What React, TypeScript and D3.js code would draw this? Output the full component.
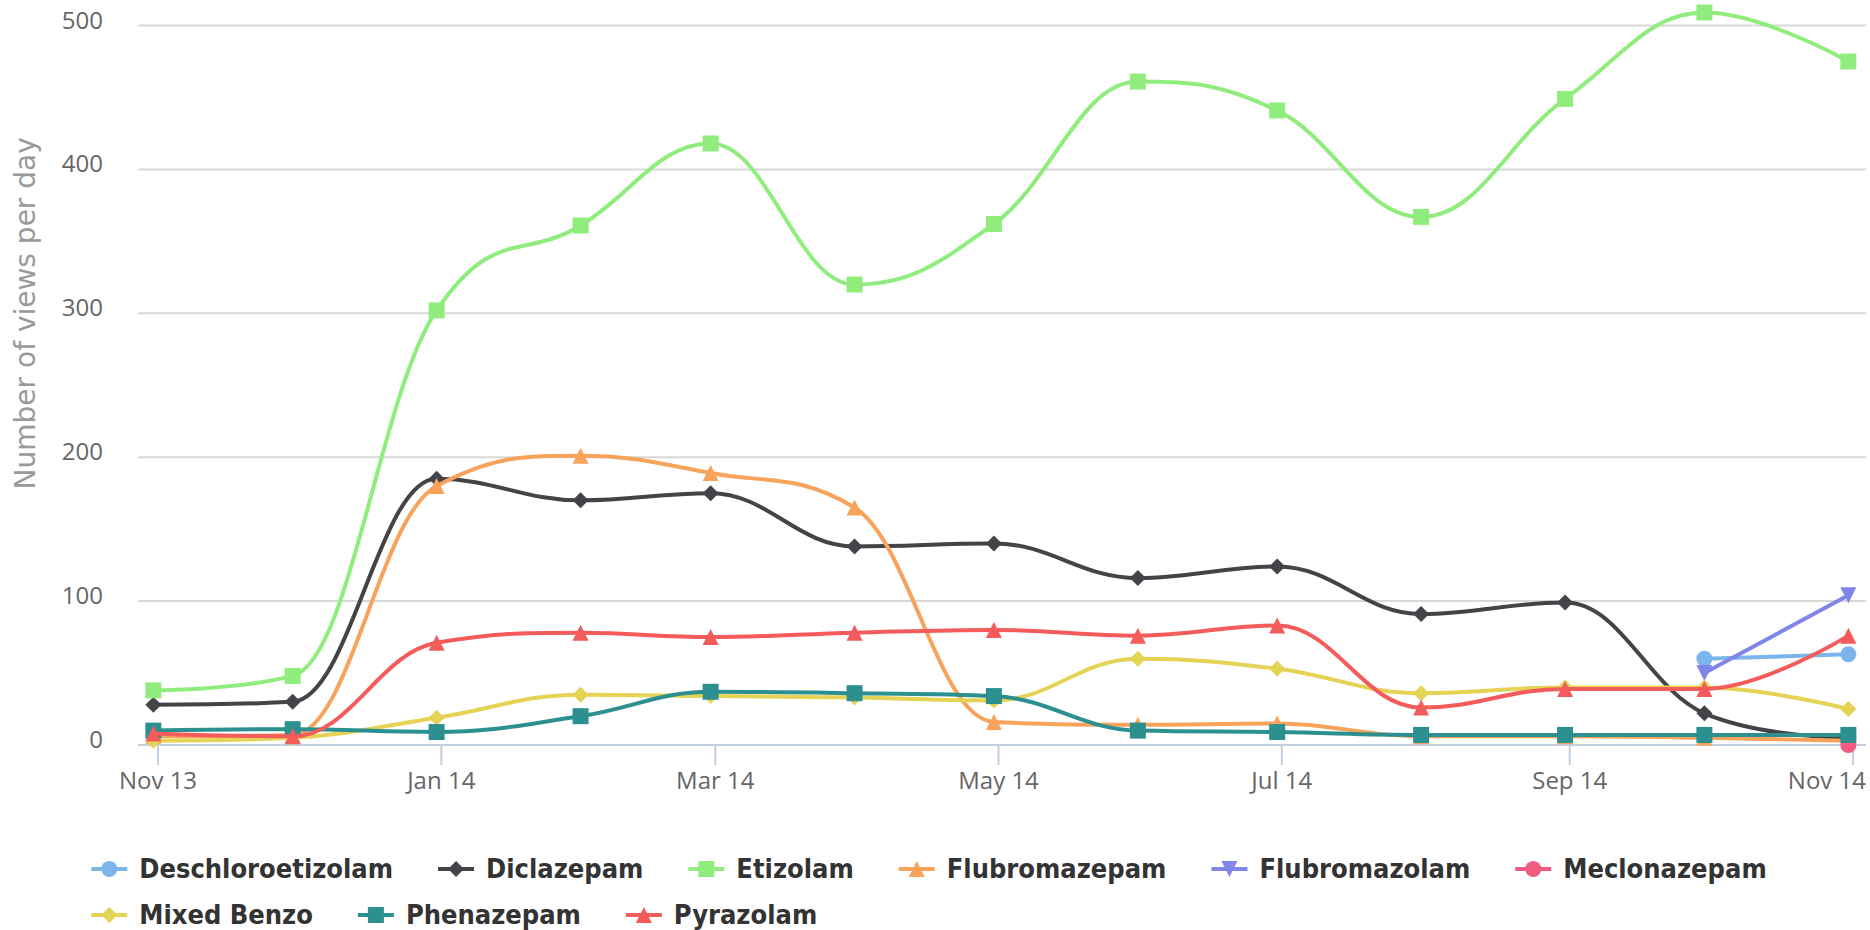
import React, { useRef, useEffect } from 'react';
import * as d3 from 'd3';

// one point per month (stamped on the last day of the previous month)
const monthDates = [
  '2013-10-31', '2013-11-30', '2013-12-31', '2014-01-31', '2014-02-28', '2014-03-31',
  '2014-04-30', '2014-05-31', '2014-06-30', '2014-07-31', '2014-08-31', '2014-09-30', '2014-10-31',
];
const xTickDates = ['2013-11-01', '2014-01-01', '2014-03-01', '2014-05-01', '2014-07-01', '2014-09-01', '2014-11-01'];
const yTicks = [0, 100, 200, 300, 400, 500];

const seriesNames = [
  'Deschloroetizolam', 'Diclazepam', 'Etizolam', 'Flubromazepam', 'Flubromazolam',
  'Meclonazepam', 'Mixed Benzo', 'Phenazepam', 'Pyrazolam',
];
const seriesColors = ['#7cb5ec', '#434348', '#90ed7d', '#f7a35c', '#8085e9', '#f15c80', '#e4d354', '#2b908f', '#f45b5b'];
const seriesSymbols = ['circle', 'diamond', 'square', 'triangle', 'triangle-down', 'circle', 'diamond', 'square', 'triangle'];

const deschloroetizolam = [null, null, null, null, null, null, null, null, null, null, null, 60, 63];
const diclazepam = [28, 30, 185, 170, 175, 138, 140, 116, 124, 91, 99, 22, 5];
const etizolam = [38, 48, 302, 361, 418, 320, 362, 461, 441, 367, 449, 509, 475];
const flubromazepam = [6, 7, 180, 201, 189, 165, 16, 14, 15, 6, 6, 5, 3];
const flubromazolam = [null, null, null, null, null, null, null, null, null, null, null, 50, 104];
const meclonazepam = [null, null, null, null, null, null, null, null, null, null, null, null, 0];
const mixedBenzo = [3, 5, 19, 35, 34, 33, 31, 60, 53, 36, 40, 40, 25];
const phenazepam = [10, 11, 9, 20, 37, 36, 34, 10, 9, 7, 7, 7, 7];
const pyrazolam = [8, 6, 71, 78, 75, 78, 80, 76, 83, 26, 39, 39, 76];

const seriesValues = [
  deschloroetizolam, diclazepam, etizolam, flubromazepam, flubromazolam,
  meclonazepam, mixedBenzo, phenazepam, pyrazolam,
];

// spline like the one highcharts draws (smoothing 1.5, no false extremes)
const hcSpline = (context: any) => {
  let pts: number[][] = [];
  return {
    areaStart() {},
    areaEnd() {},
    lineStart() { pts = []; },
    point(x: number, y: number) { pts.push([+x, +y]); },
    lineEnd() {
      const n = pts.length;
      if (!n) return;
      const sm = 1.5, den = sm + 1;
      const lc = pts.map(p => [p[0], p[1]]);
      const rc = pts.map(p => [p[0], p[1]]);
      for (let i = 1; i < n - 1; i++) {
        const [lx, ly] = pts[i - 1];
        const [px, py] = pts[i];
        const [nx, ny] = pts[i + 1];
        const lcx = (sm * px + lx) / den;
        let lcy = (sm * py + ly) / den;
        const rcx = (sm * px + nx) / den;
        let rcy = (sm * py + ny) / den;
        let corr = 0;
        if (rcx !== lcx) corr = ((rcy - lcy) * (rcx - px)) / (rcx - lcx) + py - rcy;
        lcy += corr;
        rcy += corr;
        if (lcy > ly && lcy > py) { lcy = Math.max(ly, py); rcy = 2 * py - lcy; }
        else if (lcy < ly && lcy < py) { lcy = Math.min(ly, py); rcy = 2 * py - lcy; }
        if (rcy > ny && rcy > py) { rcy = Math.max(ny, py); lcy = 2 * py - rcy; }
        else if (rcy < ny && rcy < py) { rcy = Math.min(ny, py); lcy = 2 * py - rcy; }
        lc[i] = [lcx, lcy];
        rc[i] = [rcx, rcy];
      }
      context.moveTo(pts[0][0], pts[0][1]);
      for (let i = 1; i < n; i++) {
        context.bezierCurveTo(rc[i - 1][0], rc[i - 1][1], lc[i][0], lc[i][1], pts[i][0], pts[i][1]);
      }
    },
  };
};

const symbolPath = (type: string, cx: number, cy: number, r: number) => {
  if (type === 'circle') {
    const p = d3.path();
    p.arc(cx, cy, r, 0, Math.PI * 2);
    return p.toString();
  }
  if (type === 'square') return `M${cx - r},${cy - r}h${2 * r}v${2 * r}h${-2 * r}Z`;
  if (type === 'diamond') return `M${cx},${cy - r}L${cx + r},${cy}L${cx},${cy + r}L${cx - r},${cy}Z`;
  if (type === 'triangle') return `M${cx},${cy - r}L${cx + r},${cy + r}L${cx - r},${cy + r}Z`;
  return `M${cx - r},${cy - r}L${cx + r},${cy - r}L${cx},${cy + r}Z`;
};

const App = () => {
  const svgRef = useRef<SVGSVGElement>(null);

  useEffect(() => {
    const svg = d3.select(svgRef.current);
    svg.selectAll('*').remove();
    const width = 1870;
    const height = 930;
    const plotLeft = 138;
    const plotRight = 1866;
    const parse = d3.utcParse('%Y-%m-%d');
    const dates = monthDates.map(d => parse(d) as Date);

    const x = d3.scaleUtc()
      .domain([parse('2013-11-01') as Date, parse('2014-11-01') as Date])
      .range([158, 1853]);
    const y = d3.scaleLinear().domain([0, 600]).range([745, -118.4]);

    svg.attr('width', width).attr('height', height);

    // grid
    svg.append('g').selectAll('line').data(yTicks).join('line')
      .attr('x1', plotLeft).attr('x2', plotRight)
      .attr('y1', d => y(d)).attr('y2', d => y(d))
      .attr('stroke', '#d8d8d8').attr('stroke-width', 2);

    // y labels
    svg.append('g').selectAll('text').data(yTicks).join('text')
      .attr('x', 103).attr('y', d => y(d) + 3)
      .attr('text-anchor', 'end')
      .style('font-family', "'Open Sans', sans-serif")
      .style('font-size', '24px')
      .attr('fill', '#666666')
      .text(d => d);

    svg.append('text')
      .attr('transform', `translate(25,${(y(0) + y(600)) / 2}) rotate(-90)`)
      .attr('text-anchor', 'middle')
      .attr('dy', '0.35em')
      .style('font-family', "'DejaVu Sans', sans-serif")
      .style('font-size', '28px')
      .attr('fill', '#999999')
      .text('Number of views per day');

    // x axis
    const xAxis = svg.append('g');
    xAxis.append('line')
      .attr('x1', plotLeft).attr('x2', plotRight)
      .attr('y1', y(0)).attr('y2', y(0))
      .attr('stroke', '#c0d0e0').attr('stroke-width', 2);
    const ticks = xTickDates.map(d => parse(d) as Date);
    xAxis.selectAll('line.tick').data(ticks).join('line')
      .attr('class', 'tick')
      .attr('x1', d => x(d)).attr('x2', d => x(d))
      .attr('y1', y(0)).attr('y2', y(0) + 20)
      .attr('stroke', '#c0d0e0').attr('stroke-width', 2);
    xAxis.selectAll('text').data(ticks).join('text')
      .attr('x', d => x(d)).attr('y', 789)
      .attr('text-anchor', 'middle')
      .style('font-family', "'Open Sans', sans-serif")
      .style('font-size', '24px')
      .attr('fill', '#666666')
      .text(d => d3.utcFormat('%b %y')(d))
      .each(function () {
        // keep labels inside the chart like highcharts does
        const node = this as SVGTextElement;
        const w = node.getComputedTextLength();
        const cx = +node.getAttribute('x')!;
        if (cx + w / 2 > width - 4) node.setAttribute('x', String(width - 4 - w / 2));
      });

    // series
    const line = d3.line<any>()
      .defined(d => d.v !== null)
      .x(d => x(d.date))
      .y(d => y(d.v))
      .curve(hcSpline as any);

    seriesValues.forEach((vals, i) => {
      const pts = vals.map((v, j) => ({ date: dates[j], v }));
      const g = svg.append('g');
      g.append('path')
        .attr('d', line(pts))
        .attr('fill', 'none')
        .attr('stroke', seriesColors[i])
        .attr('stroke-width', 4)
        .attr('stroke-linejoin', 'round')
        .attr('stroke-linecap', 'round');
      g.selectAll('path.marker').data(pts.filter(p => p.v !== null)).join('path')
        .attr('class', 'marker')
        .attr('d', p => symbolPath(seriesSymbols[i], x(p.date), y(p.v as number), 8))
        .attr('fill', seriesColors[i]);
    });

    // legend
    const legend = svg.append('g');
    const rowY = [869, 915];
    const perRow = 6;
    const items: any[] = [];
    seriesNames.forEach((name, i) => {
      const item = legend.append('g');
      item.append('line')
        .attr('x1', 0).attr('x2', 36)
        .attr('stroke', seriesColors[i]).attr('stroke-width', 4);
      item.append('path')
        .attr('d', symbolPath(seriesSymbols[i], 18, 0, 8))
        .attr('fill', seriesColors[i]);
      const t = item.append('text')
        .attr('x', 48).attr('y', 9)
        .style('font-family', "'DejaVu Sans Condensed', 'DejaVu Sans', sans-serif")
        .style('font-stretch', 'condensed')
        .style('font-weight', 'bold')
        .style('font-size', '27px')
        .attr('fill', '#333333')
        .text(name);
      const w = 48 + (t.node() as SVGTextElement).getComputedTextLength();
      items.push({ item, w, row: Math.floor(i / perRow) });
    });
    const rowWidths = [0, 0];
    items.forEach(it => { rowWidths[it.row] += it.w + (rowWidths[it.row] > 0 ? 45 : 0); });
    const boxW = Math.max(...rowWidths);
    const startX = 929 - boxW / 2;
    const cursor = [startX, startX];
    items.forEach(it => {
      it.item.attr('transform', `translate(${cursor[it.row]},${rowY[it.row]})`);
      cursor[it.row] += it.w + 45;
    });
  }, []);

  return (
    <div style={{ position: 'absolute', left: 0, top: 0 }}>
      <svg ref={svgRef} style={{ display: 'block', background: '#ffffff' }}></svg>
    </div>
  );
};

export default App;
